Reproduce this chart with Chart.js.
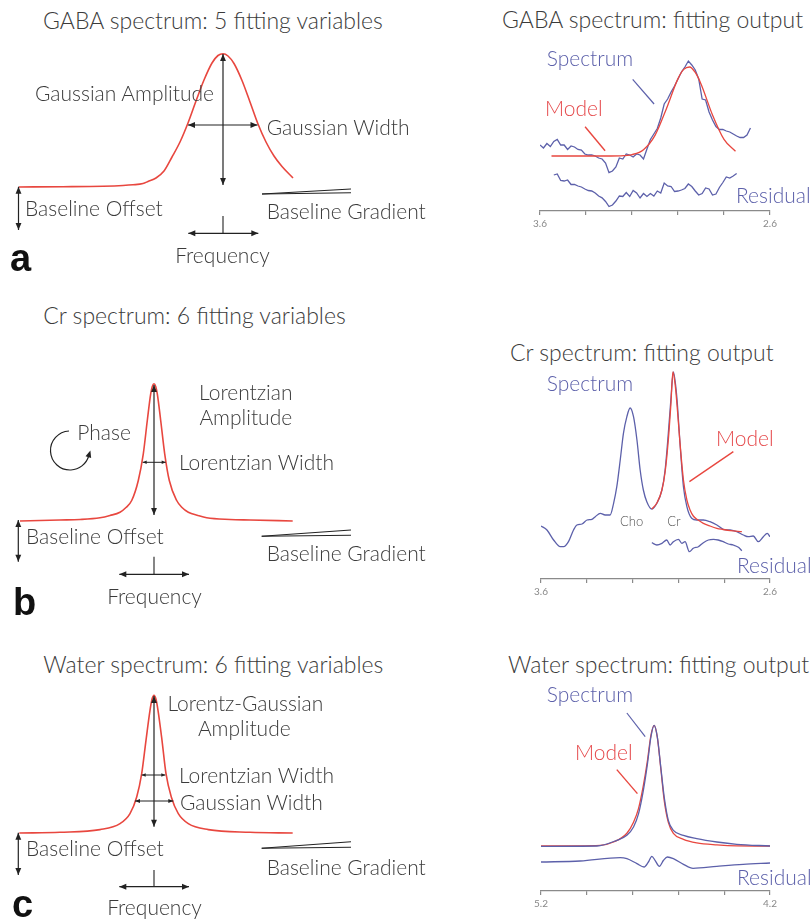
<!DOCTYPE html>
<html><head><meta charset="utf-8">
<script src="https://cdn.jsdelivr.net/npm/chart.js@4.4.0/dist/chart.umd.min.js"></script>
<style>
html,body{margin:0;padding:0;background:#fff;}
body{width:812px;height:923px;overflow:hidden;position:relative;font-family:Lato,'Open Sans',sans-serif;}
.box{position:absolute;}
.t{position:absolute;white-space:nowrap;line-height:1.2;font-weight:300;color:#3b3b3b;}
.L{position:absolute;font-family:'Liberation Sans',Arial,sans-serif;font-weight:bold;font-size:38px;line-height:1;color:#111;}
</style></head><body>
<div class="box" style="left:3px;top:37px;width:440px;height:250px"><canvas id="ga"></canvas></div>
<div class="box" style="left:4px;top:371px;width:440px;height:250px"><canvas id="gb"></canvas></div>
<div class="box" style="left:4px;top:683px;width:440px;height:250px"><canvas id="gc"></canvas></div>
<div class="box" style="left:520px;top:41px;width:292px;height:192px"><canvas id="ra"></canvas></div>
<div class="box" style="left:520px;top:369px;width:292px;height:232px"><canvas id="rb"></canvas></div>
<div class="box" style="left:520px;top:691px;width:292px;height:222px"><canvas id="rc"></canvas></div>
<div class="L" style="left:10px;top:239px">a</div>
<div class="L" style="left:13px;top:583px">b</div>
<div class="L" style="left:12px;top:885px">c</div>
<script>
// ---------- DATA ----------
// (a) GABA model shape: frequency (arb.) vs amplitude (arb.)
const gaussFreq = [-20.4, -16, -12, -10, -9, -8, -7.5, -6.7, -5.9, -5.1, -4.3, -3.5, -2.7, -1.9, -1.1, -0.5, 0, 0.5, 1.1, 1.9, 2.7, 3.5, 4.3, 5.1, 5.9, 7.0];
const gaussAmp  = [0, 0.003, 0.008, 0.015, 0.022, 0.035, 0.055, 0.09, 0.16, 0.30, 0.45, 0.64, 0.86, 1.07, 1.24, 1.315, 1.332, 1.31, 1.235, 1.065, 0.85, 0.63, 0.45, 0.31, 0.205, 0.09];
// (b) Cr model shape
const lorFreq = [-13.4, -9.4, -7.4, -5.4, -4.4, -3.4, -2.8, -2.23, -1.57, -1.07, -0.67, -0.33, -0.17, 0, 0.17, 0.33, 0.67, 1.07, 1.53, 2.27, 2.8, 3.43, 4.4, 5.27, 7.6, 9.6, 13.87];
const lorAmp  = [0, 0.01, 0.015, 0.032, 0.055, 0.088, 0.135, 0.205, 0.405, 0.672, 1.005, 1.272, 1.345, 1.372, 1.345, 1.272, 1.005, 0.672, 0.405, 0.205, 0.135, 0.088, 0.055, 0.032, 0.015, 0.01, 0];
// (c) Water model shape
const lgFreq = [-13.47, -9.4, -5.4, -3.4, -2.4, -1.73, -1.23, -0.8, -0.4, -0.2, 0, 0.2, 0.4, 0.8, 1.2, 1.73, 2.43, 3.43, 5.43, 9.6, 13.87];
const lgAmp  = [0, 0.007, 0.034, 0.094, 0.194, 0.36, 0.594, 0.927, 1.227, 1.337, 1.377, 1.337, 1.227, 0.927, 0.594, 0.36, 0.194, 0.094, 0.034, 0.007, 0];

// GABA fitting output (ppm)
const gabaPpm = [3.6, 3.585, 3.57, 3.555, 3.54, 3.525, 3.51, 3.495, 3.48, 3.465, 3.45, 3.435, 3.42, 3.405, 3.39, 3.375, 3.36, 3.345, 3.33, 3.315, 3.3, 3.285, 3.27, 3.255, 3.24, 3.225, 3.21, 3.195, 3.18, 3.165, 3.15, 3.135, 3.12, 3.105, 3.09, 3.075, 3.06, 3.045, 3.03, 3.015, 3.0, 2.985, 2.97, 2.955, 2.94, 2.925, 2.91, 2.895, 2.88, 2.865, 2.85, 2.835, 2.82, 2.805, 2.79, 2.775, 2.76, 2.745, 2.73, 2.715, 2.7, 2.685];
const gabaSpectrum = [0.66, 0.63, 0.675, 0.645, 0.695, 0.715, 0.66, 0.66, 0.615, 0.65, 0.64, 0.615, 0.61, 0.57, 0.56, 0.56, 0.55, 0.53, 0.52, 0.48, 0.383, 0.40, 0.44, 0.53, 0.52, 0.57, 0.56, 0.54, 0.57, 0.56, 0.52, 0.62, 0.715, 0.77, 0.825, 0.93, 1.07, 1.12, 1.19, 1.25, 1.32, 1.39, 1.44, 1.50, 1.46, 1.41, 1.32, 1.12, 1.11, 0.99, 0.91, 0.845, 0.815, 0.815, 0.80, 0.79, 0.77, 0.75, 0.735, 0.735, 0.76, 0.83];
const gabaResidual = [null, null, null, null, 0.36, 0.37, 0.305, 0.30, 0.31, 0.265, 0.265, 0.25, 0.24, 0.22, 0.205, 0.20, 0.18, 0.15, 0.132, 0.095, 0.045, 0.06, 0.10, 0.15, 0.145, 0.185, 0.145, 0.205, 0.18, 0.13, 0.175, 0.145, 0.175, 0.15, 0.20, 0.18, 0.28, 0.25, 0.245, 0.195, 0.20, 0.21, 0.225, 0.27, 0.245, 0.20, 0.16, 0.175, 0.23, 0.22, 0.16, 0.17, 0.235, 0.285, 0.34, 0.33, 0.35, 0.375, null, null, null, null];
const gabaModelPpm = [3.55, 3.45, 3.35, 3.25, 3.2, 3.15, 3.1, 3.05, 3.0, 2.975, 2.95, 2.925, 2.9, 2.85, 2.8, 2.75];
const gabaModel    = [0.55, 0.55, 0.55, 0.552, 0.564, 0.613, 0.756, 1.026, 1.324, 1.416, 1.44, 1.386, 1.271, 0.96, 0.716, 0.597];

// Cr fitting output (ppm)
const crSpecPpm = [3.6, 3.574, 3.545, 3.516, 3.501, 3.48, 3.458, 3.443, 3.421, 3.399, 3.378, 3.363, 3.341, 3.32, 3.298, 3.283, 3.269, 3.254, 3.24, 3.225, 3.211, 3.196, 3.181, 3.167, 3.153, 3.138, 3.116, 3.094, 3.072, 3.058, 3.044, 3.033, 3.022, 3.007, 2.993, 2.978, 2.963, 2.942, 2.92, 2.891, 2.862, 2.832, 2.804, 2.774, 2.745, 2.716, 2.695, 2.673, 2.651, 2.629, 2.612, 2.6];
const crSpectrum = [0.53, 0.49, 0.39, 0.323, 0.323, 0.373, 0.49, 0.54, 0.55, 0.59, 0.597, 0.623, 0.657, 0.64, 0.64, 0.757, 0.923, 1.19, 1.457, 1.623, 1.71, 1.623, 1.39, 1.09, 0.89, 0.773, 0.70, 0.757, 0.89, 1.09, 1.457, 1.79, 2.07, 1.823, 1.357, 0.923, 0.723, 0.607, 0.59, 0.59, 0.573, 0.54, 0.497, 0.49, 0.473, 0.44, 0.423, 0.43, 0.373, 0.423, 0.457, 0.423];
const crModelPpm = [3.116, 3.094, 3.072, 3.058, 3.044, 3.033, 3.024, 3.014, 3.006, 2.993, 2.978, 2.963, 2.949, 2.935, 2.914, 2.891, 2.862, 2.832, 2.805, 2.774, 2.723];
const crModel    = [0.70, 0.76, 0.89, 1.07, 1.39, 1.74, 2.07, 1.94, 1.74, 1.36, 0.99, 0.79, 0.69, 0.63, 0.59, 0.557, 0.53, 0.507, 0.495, 0.483, 0.473];
const crResPpm = [3.116, 3.094, 3.072, 3.051, 3.036, 3.022, 3.0, 2.985, 2.971, 2.952, 2.935, 2.913, 2.891, 2.869, 2.847, 2.826, 2.804, 2.782, 2.76, 2.738, 2.723];
const crResidual = [0.363, 0.34, 0.357, 0.39, 0.34, 0.373, 0.397, 0.357, 0.373, 0.273, 0.307, 0.323, 0.363, 0.39, 0.397, 0.39, 0.373, 0.35, 0.34, 0.317, 0.283];

// Water fitting output (ppm)
const wSpecPpm = [5.2, 4.956, 4.869, 4.825, 4.796, 4.774, 4.753, 4.735, 4.72, 4.706, 4.692, 4.677, 4.662, 4.644, 4.622, 4.578, 4.52, 4.432, 4.345, 4.2];
const wSpectrum = [0.447, 0.45, 0.507, 0.557, 0.64, 0.774, 1.007, 1.274, 1.54, 1.657, 1.54, 1.24, 0.94, 0.707, 0.607, 0.557, 0.524, 0.49, 0.467, 0.45];
const wModelPpm = [5.2, 4.941, 4.883, 4.825, 4.796, 4.774, 4.753, 4.735, 4.72, 4.706, 4.692, 4.677, 4.662, 4.644, 4.622, 4.578, 4.52, 4.432, 4.345, 4.2];
const wModel    = [0.45, 0.457, 0.49, 0.577, 0.687, 0.827, 1.057, 1.307, 1.557, 1.657, 1.537, 1.227, 0.907, 0.687, 0.577, 0.517, 0.482, 0.462, 0.452, 0.45];
const wResPpm = [5.2, 5.029, 4.854, 4.825, 4.781, 4.75, 4.731, 4.716, 4.702, 4.683, 4.665, 4.648, 4.622, 4.578, 4.536, 4.432, 4.317, 4.2];
const wResidual = [0.29, 0.30, 0.334, 0.324, 0.274, 0.24, 0.29, 0.347, 0.307, 0.247, 0.307, 0.34, 0.324, 0.267, 0.227, 0.247, 0.267, 0.28];

// axis tick ends
const gabaTicks = [3.6, 2.6];
const crTicks = [3.6, 2.6];
const wTicks = [5.2, 4.2];

// ---------- STYLE ----------
const RED = '#e8473f', BLUE = '#5c60aa', INK = '#222';

const annotPlugin = {
  id: 'annot',
  afterDatasetsDraw(chart, args, opts) {
    const {ctx} = chart; const sx = chart.scales.x, sy = chart.scales.y;
    const X = v => sx.getPixelForValue(v), Y = v => sy.getPixelForValue(v);
    ctx.save();
    ctx.lineCap = 'butt';
    (opts.segs || []).forEach(s => {
      const c = s.color || INK;
      ctx.strokeStyle = c; ctx.lineWidth = s.w || 1.2;
      const x1 = X(s.a[0]), y1 = Y(s.a[1]), x2 = X(s.b[0]), y2 = Y(s.b[1]);
      ctx.beginPath(); ctx.moveTo(x1, y1); ctx.lineTo(x2, y2); ctx.stroke();
      const hs = s.hs || 7;
      if (s.head === 'end' || s.head === 'both') head(ctx, x1, y1, x2, y2, c, hs);
      if (s.head === 'both') head(ctx, x2, y2, x1, y1, c, hs);
    });
    (opts.arcs || []).forEach(a => {
      const cx = X(a.c[0]), cy = Y(a.c[1]);
      ctx.strokeStyle = INK; ctx.lineWidth = 1.2;
      ctx.beginPath(); ctx.arc(cx, cy, a.r, a.s, a.e, true); ctx.stroke();
      const px = cx + a.r * Math.cos(a.e), py = cy + a.r * Math.sin(a.e);
      const dx = Math.sin(a.e), dy = -Math.cos(a.e);
      head(ctx, px, py, px + dx * 6, py + dy * 6, INK, 7);
    });
    ctx.restore();
  }
};
function head(ctx, xa, ya, xb, yb, color, L) {
  const ang = Math.atan2(yb - ya, xb - xa), W = L * 0.42;
  ctx.fillStyle = color;
  ctx.beginPath();
  ctx.moveTo(xb, yb);
  ctx.lineTo(xb - L * Math.cos(ang) + W * Math.sin(ang), yb - L * Math.sin(ang) - W * Math.cos(ang));
  ctx.lineTo(xb - L * Math.cos(ang) - W * Math.sin(ang), yb - L * Math.sin(ang) + W * Math.cos(ang));
  ctx.closePath(); ctx.fill();
}
const pts = (xs, ys) => xs.map((x, i) => ({x, y: ys[i]}));

function leftChart(id, xs, ys, xr, yr, annot) {
  return new Chart(document.getElementById(id), {
    type: 'line',
    data: {datasets: [{data: pts(xs, ys), borderColor: RED, borderWidth: 1.6, pointRadius: 0, cubicInterpolationMode: 'monotone', fill: false}]},
    options: {
      responsive: true, maintainAspectRatio: false, animation: false, events: [],
      layout: {padding: 0},
      plugins: {legend: {display: false}, tooltip: {enabled: false}, annot},
      scales: {x: {type: 'linear', display: false, min: xr[0], max: xr[1]},
               y: {type: 'linear', display: false, min: yr[0], max: yr[1]}}
    },
    plugins: [annotPlugin]
  });
}

function rightChart(id, datasets, ends, ymax, padTop, padLeft, annot) {
  const lo = Math.min(...ends), hi = Math.max(...ends);
  return new Chart(document.getElementById(id), {
    type: 'line',
    data: {datasets},
    options: {
      responsive: true, maintainAspectRatio: false, animation: false, events: [],
      layout: {padding: {top: padTop, left: padLeft, right: 42, bottom: 0}},
      plugins: {legend: {display: false}, tooltip: {enabled: false}, annot},
      scales: {
        x: {type: 'linear', reverse: true, min: lo, max: hi,
            border: {display: true, color: '#8a8a8a', width: 1.3},
            grid: {display: true, drawOnChartArea: false, drawTicks: true, tickLength: 4, color: '#8a8a8a', lineWidth: 1.2},
            ticks: {stepSize: 0.2, autoSkip: false, maxRotation: 0, padding: 3, color: '#888', font: {size: 10, family: 'Lato'},
                    callback: v => ends.some(e => Math.abs(e - v) < 1e-6) ? v.toFixed(1) : ''}},
        y: {type: 'linear', display: false, min: 0, max: ymax}
      }
    },
    plugins: [annotPlugin]
  });
}
const line = (data, color, tension) => ({data, borderColor: color, borderWidth: 1.3, pointRadius: 0, fill: false, tension: tension || 0, spanGaps: false,
  cubicInterpolationMode: tension ? 'monotone' : 'default'});

// ----- left panels -----
leftChart('ga', gaussFreq, gaussAmp, [-22, 22], [-1, 1.5], {
  segs: [
    {a: [0, 1.33], b: [0, 0.02], head: 'both'},
    {a: [-3.5, 0.62], b: [3.45, 0.62], head: 'both'},
    {a: [-20.45, 0.003], b: [-20.45, -0.43], head: 'both'},
    {a: [3.9, -0.07], b: [12.8, -0.02], w: 1.1},
    {a: [3.9, -0.07], b: [12.8, -0.057], w: 1.1},
    {a: [0, -0.29], b: [0, -0.463], w: 1.1},
    {a: [-3.47, -0.463], b: [3.53, -0.463], head: 'both'}
  ]});
leftChart('gb', lorFreq, lorAmp, [-15, 29], [-1, 1.5], {
  segs: [
    {a: [0, 1.36], b: [0, 0.06], head: 'both'},
    {a: [-1.13, 0.587], b: [1.17, 0.587], head: 'both', hs: 4, w: 1},
    {a: [-13.57, 0.01], b: [-13.57, -0.407], head: 'both'},
    {a: [10.77, -0.153], b: [19.7, -0.09], w: 1.1},
    {a: [10.77, -0.153], b: [19.7, -0.143], w: 1.1},
    {a: [0, -0.357], b: [0, -0.533], w: 1.1},
    {a: [-3.47, -0.533], b: [3.5, -0.533], head: 'both'}
  ],
  arcs: [{c: [-8.4, 0.705], r: 19.5, s: -Math.PI / 2 - 0.05, e: 0.3}]
});
leftChart('gc', lgFreq, lgAmp, [-15, 29], [-1, 1.5], {
  segs: [
    {a: [0, 1.37], b: [0, 0.063], head: 'both'},
    {a: [-1.23, 0.58], b: [1.13, 0.58], head: 'both', hs: 4, w: 1},
    {a: [-1.9, 0.32], b: [1.93, 0.32], head: 'both', hs: 5, w: 1.1},
    {a: [-13.57, 0.003], b: [-13.57, -0.42], head: 'both'},
    {a: [10.77, -0.153], b: [19.7, -0.087], w: 1.1},
    {a: [10.77, -0.153], b: [19.7, -0.143], w: 1.1},
    {a: [0, -0.37], b: [0, -0.537], w: 1.1},
    {a: [-3.47, -0.537], b: [3.5, -0.537], head: 'both'}
  ]});

// ----- right panels -----
rightChart('ra', [
  line(pts(gabaModelPpm, gabaModel), RED, 0.4),
  line(pts(gabaPpm, gabaSpectrum), BLUE, 0),
  line(pts(gabaPpm, gabaResidual), BLUE, 0)
], gabaTicks, 1.7, 0, 20, {
  segs: [
    {a: [3.197, 1.317], b: [3.104, 1.07], color: BLUE, w: 1.2},
    {a: [3.404, 0.843], b: [3.317, 0.603], color: RED, w: 1.4}
  ]});
rightChart('rb', [
  line(pts(crModelPpm, crModel), RED, 0.4),
  line(pts(crSpecPpm, crSpectrum), BLUE, 0.4),
  line(pts(crResPpm, crResidual), BLUE, 0.4)
], crTicks, 2.1, 0, 21, {
  segs: [{a: [2.76, 1.273], b: [2.952, 0.973], color: RED, w: 1.4}]});
rightChart('rc', [
  line(pts(wSpecPpm, wSpectrum), BLUE, 0.4),
  line(pts(wModelPpm, wModel), RED, 0.4),
  line(pts(wResPpm, wResidual), BLUE, 0.4)
], wTicks, 1.7, 30, 21, {
  segs: [
    {a: [4.825, 1.78], b: [4.745, 1.543], color: BLUE, w: 1.2},
    {a: [4.869, 1.214], b: [4.779, 0.974], color: RED, w: 1.4}
  ]});

// ----- text labels: [text, x, centerY, size, color, align] -----
const TG = '#3b3b3b', TB = '#5c60aa', TR = '#e5484a';
const LABELS = [
  ['GABA spectrum: 5 fitting variables', 43, 21.7, 23, TG],
  ['Gaussian Amplitude', 35, 93.3, 21, TG],
  ['Gaussian Width', 266.7, 126.7, 21, TG],
  ['Baseline Offset', 25, 208.3, 21, TG],
  ['Baseline Gradient', 266.7, 210.7, 21, TG],
  ['Frequency', 222.5, 255, 21, TG, 'c'],
  ['GABA spectrum: fitting output', 502, 20.7, 23, TG],
  ['Spectrum', 546.7, 58.3, 21, TB],
  ['Model', 545, 108.3, 21, TR],
  ['Residual', 736, 195, 21, TB],
  ['Cr spectrum: 6 fitting variables', 43.3, 316.7, 23, TG],
  ['Lorentzian', 245.8, 391.7, 21, TG, 'c'],
  ['Amplitude', 245.8, 416.7, 21, TG, 'c'],
  ['Phase', 77.3, 431.7, 21, TG],
  ['Lorentzian Width', 179, 462.3, 21, TG],
  ['Baseline Offset', 26, 536, 21, TG],
  ['Baseline Gradient', 266.7, 553.3, 21, TG],
  ['Frequency', 154.5, 596, 21, TG, 'c'],
  ['Cr spectrum: fitting output', 510, 353, 23, TG],
  ['Spectrum', 546.7, 383, 21, TB],
  ['Model', 716, 438, 21, TR],
  ['Cho', 631.7, 521.7, 13, '#555', 'c'],
  ['Cr', 674, 521.7, 13, '#555', 'c'],
  ['Residual', 737, 565, 21, TB],
  ['Water spectrum: 6 fitting variables', 43.3, 665, 23, TG],
  ['Lorentz-Gaussian', 245.3, 703.3, 21, TG, 'c'],
  ['Amplitude', 244.3, 728.3, 21, TG, 'c'],
  ['Lorentzian Width', 179, 775, 21, TG],
  ['Gaussian Width', 180, 801.7, 21, TG],
  ['Baseline Offset', 26, 848.3, 21, TG],
  ['Baseline Gradient', 266.7, 866.7, 21, TG],
  ['Frequency', 154.5, 906.7, 21, TG, 'c'],
  ['Water spectrum: fitting output', 508, 665, 23, TG],
  ['Spectrum', 546.7, 694, 21, TB],
  ['Model', 575, 751.7, 21, TR],
  ['Residual', 737, 877, 21, TB]
];
LABELS.forEach(([txt, x, cy, size, color, align]) => {
  const d = document.createElement('div');
  d.className = 't'; d.textContent = txt;
  d.style.fontSize = size + 'px'; d.style.color = color;
  d.style.left = x + 'px'; d.style.top = (cy - 0.62 * size) + 'px';
  if (align === 'c') d.style.transform = 'translateX(-50%)';
  document.body.appendChild(d);
});
</script>
</body></html>
